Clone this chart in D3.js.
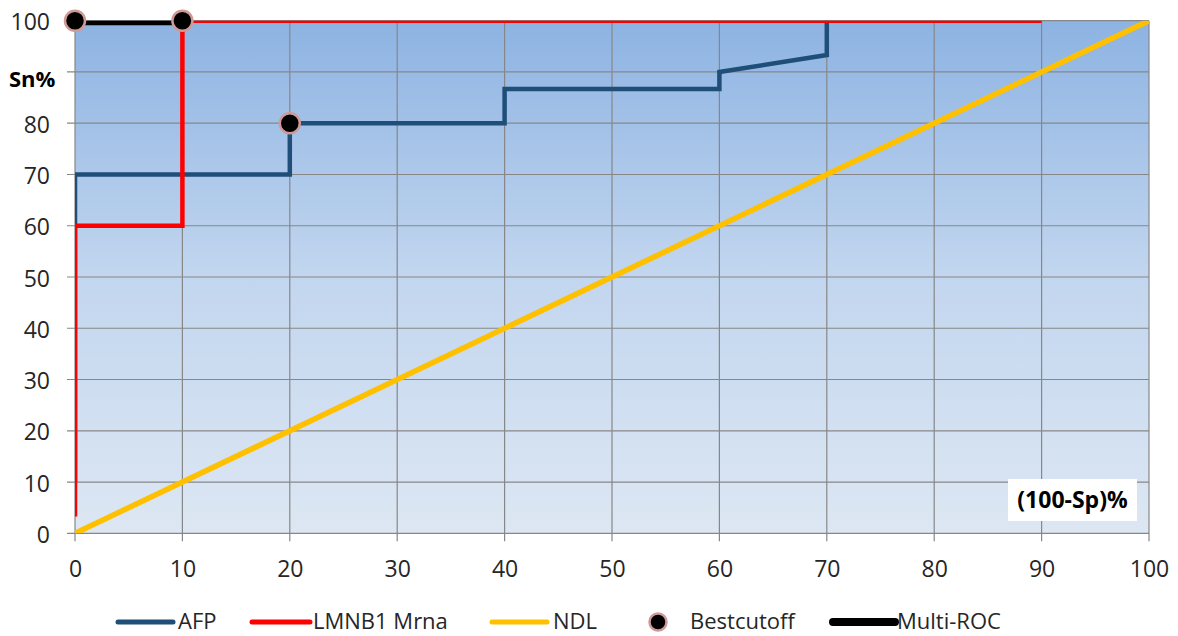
<!DOCTYPE html>
<html><head><meta charset="utf-8">
<script src="https://cdn.jsdelivr.net/npm/d3@7/dist/d3.min.js"></script>
<style>html,body{margin:0;padding:0;background:#fff;}svg{display:block;}</style>
</head><body>
<svg id="c" width="1178" height="636"></svg>
<script>
// ---- data ----
const xTicks = [0,10,20,30,40,50,60,70,80,90,100];
const yTicks = [0,10,20,30,40,50,60,70,80,90,100];
const yTickLabels = [0,10,20,30,40,50,60,70,80,100]; // 90 is replaced by the axis title
const afpX = [0,0,20,20,40,40,60,60,70,70];
const afpY = [10,70,70,80,80,86.7,86.7,90,93.3,100];
const lmnbX = [0,0,10,10,90];
const lmnbY = [3.3,60,60,100,100];
const ndlX = [0,100];
const ndlY = [0,100];
const bestX = [0,10,20];
const bestY = [100,100,80];
const multiX = [0,10];
const multiY = [100,100];
const legendLabels = ["AFP","LMNB1 Mrna","NDL","Bestcutoff","Multi-ROC"];
const xTitle = "(100-Sp)%";
const yTitle = "Sn%";

// ---- layout ----
const L = 75, R = 1149, T = 20.7, B = 533.3;
const font = "'Open Sans', sans-serif";
const svg = d3.select("#c");
const x = d3.scaleLinear().domain([0,100]).range([L,R]);
const y = d3.scaleLinear().domain([0,100]).range([B,T]);

const defs = svg.append("defs");
const g = defs.append("linearGradient").attr("id","bg").attr("x1",0).attr("y1",0).attr("x2",0).attr("y2",1);
g.append("stop").attr("offset","0%").attr("stop-color","#8db3e2");
g.append("stop").attr("offset","50%").attr("stop-color","#c2d6ef");
g.append("stop").attr("offset","100%").attr("stop-color","#dde7f3");
defs.append("clipPath").attr("id","clip").append("rect").attr("x",L).attr("y",T).attr("width",R-L).attr("height",B-T);

svg.append("rect").attr("x",L).attr("y",T).attr("width",R-L).attr("height",B-T).attr("fill","url(#bg)");

// grid
const grid = svg.append("g");
grid.selectAll("line.v").data(xTicks).join("line")
  .attr("x1",d=>x(d)).attr("x2",d=>x(d)).attr("y1",T).attr("y2",B+8)
  .attr("stroke","#878787").attr("stroke-width",1.2);
grid.selectAll("line.h").data(yTicks).join("line")
  .attr("y1",d=>y(d)).attr("y2",d=>y(d)).attr("x1",L-8).attr("x2",R)
  .attr("stroke","#878787").attr("stroke-width",1.2);

// axis labels via d3 axes
const xAxis = svg.append("g").attr("transform",`translate(0,${B})`)
  .call(d3.axisBottom(x).tickValues(xTicks).tickSize(0).tickPadding(0));
xAxis.select(".domain").remove();
xAxis.selectAll("text").attr("font-family",font).attr("font-size",23).attr("fill","#262626")
  .attr("dy",null).attr("y",44);
const yAxis = svg.append("g").attr("transform",`translate(${L},0)`)
  .call(d3.axisLeft(y).tickValues(yTickLabels).tickSize(0).tickPadding(0));
yAxis.select(".domain").remove();
yAxis.selectAll("text").attr("font-family",font).attr("font-size",23).attr("fill","#262626")
  .attr("dy",null).attr("x",-25).attr("y",9).attr("text-anchor","end");

// series
const line = (xs,ys)=>d3.line().x(i=>x(xs[i])).y(i=>y(ys[i]))(d3.range(xs.length));
const plot = svg.append("g").attr("clip-path","url(#clip)");
plot.append("path").attr("d",line(afpX,afpY)).attr("fill","none").attr("stroke","#1f4e79").attr("stroke-width",4.5);
plot.append("path").attr("d",line(lmnbX,lmnbY)).attr("fill","none").attr("stroke","#ff0000").attr("stroke-width",4.5);
plot.append("path").attr("d",line(ndlX,ndlY)).attr("fill","none").attr("stroke","#ffc000").attr("stroke-width",5.5);
plot.append("path").attr("d",line(multiX,multiY)).attr("fill","none").attr("stroke","#000").attr("stroke-width",9);
svg.append("g").selectAll("circle").data(d3.range(bestX.length)).join("circle")
  .attr("cx",i=>x(bestX[i])).attr("cy",i=>y(bestY[i])).attr("r",10)
  .attr("fill","#000").attr("stroke","#cf9a96").attr("stroke-width",2.5);

// titles
svg.append("text").attr("x",9).attr("y",87).text(yTitle)
  .attr("font-family",font).attr("font-weight","bold").attr("font-size",22).attr("fill","#000");
svg.append("rect").attr("x",1008).attr("y",479).attr("width",129).attr("height",42).attr("fill","#fff");
svg.append("text").attr("x",1072.5).attr("y",508).attr("text-anchor","middle").text(xTitle)
  .attr("font-family",font).attr("font-weight","bold").attr("font-size",23).attr("fill","#000");

// legend
const ly = 622;
const leg = [
  {type:"line", x1:118, x2:173, tx:178, color:"#1f4e79", w:5},
  {type:"line", x1:252, x2:310, tx:313, color:"#ff0000", w:5},
  {type:"line", x1:492, x2:547, tx:553, color:"#ffc000", w:5},
  {type:"dot",  cx:658, tx:690},
  {type:"line", x1:833, x2:895, tx:897, color:"#000", w:8}
];
const lg = svg.append("g");
leg.forEach((d,i)=>{
  if(d.type==="line"){
    lg.append("line").attr("x1",d.x1).attr("x2",d.x2).attr("y1",ly).attr("y2",ly)
      .attr("stroke",d.color).attr("stroke-width",d.w).attr("stroke-linecap","round");
  } else {
    lg.append("circle").attr("cx",d.cx).attr("cy",ly).attr("r",8.5)
      .attr("fill","#000").attr("stroke","#cf9a96").attr("stroke-width",2.5);
  }
  lg.append("text").attr("x",d.tx).attr("y",ly+7).text(legendLabels[i])
    .attr("font-family",font).attr("font-size",22).attr("fill","#262626");
});
</script>
</body></html>
